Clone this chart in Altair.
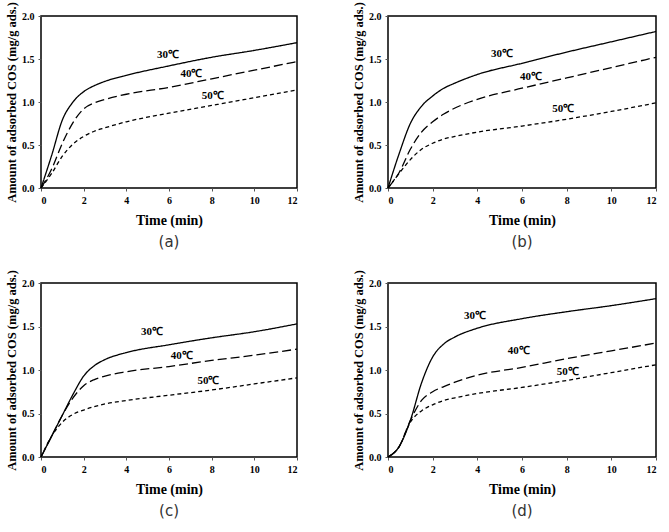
import altair as alt
import pandas as pd

time = [0, 0.5, 1, 1.5, 2, 2.5, 3, 4, 6, 8, 10, 12]
temps = ["30℃", "40℃", "50℃"]

a_30 = [0, 0.38, 0.79, 1.00, 1.12, 1.19, 1.24, 1.31, 1.42, 1.52, 1.60, 1.69]
a_40 = [0, 0.22, 0.52, 0.76, 0.92, 0.99, 1.03, 1.09, 1.17, 1.27, 1.37, 1.47]
a_50 = [0, 0.17, 0.37, 0.51, 0.60, 0.66, 0.70, 0.77, 0.87, 0.96, 1.05, 1.14]

b_30 = [0, 0.40, 0.75, 0.95, 1.07, 1.16, 1.22, 1.32, 1.45, 1.58, 1.70, 1.82]
b_40 = [0, 0.18, 0.45, 0.65, 0.77, 0.86, 0.93, 1.03, 1.16, 1.28, 1.40, 1.52]
b_50 = [0, 0.17, 0.33, 0.45, 0.52, 0.57, 0.60, 0.65, 0.72, 0.80, 0.89, 0.99]

c_30 = [0, 0.24, 0.48, 0.72, 0.93, 1.05, 1.12, 1.20, 1.29, 1.37, 1.44, 1.53]
c_40 = [0, 0.24, 0.48, 0.68, 0.82, 0.89, 0.93, 0.98, 1.04, 1.11, 1.17, 1.24]
c_50 = [0, 0.24, 0.40, 0.49, 0.54, 0.58, 0.61, 0.65, 0.71, 0.77, 0.84, 0.91]

d_30 = [0, 0.12, 0.42, 0.85, 1.15, 1.30, 1.38, 1.48, 1.59, 1.67, 1.74, 1.82]
d_40 = [0, 0.12, 0.42, 0.65, 0.75, 0.81, 0.86, 0.94, 1.03, 1.13, 1.22, 1.31]
d_50 = [0, 0.12, 0.40, 0.53, 0.60, 0.65, 0.68, 0.73, 0.80, 0.88, 0.97, 1.06]

# label positions (time, amount) per panel
a_lab_x = [5.95, 7.05, 8.05]
a_lab_y = [1.55, 1.33, 1.07]
b_lab_x = [5.1, 6.4, 7.85]
b_lab_y = [1.56, 1.29, 0.92]
c_lab_x = [5.2, 6.6, 7.85]
c_lab_y = [1.44, 1.16, 0.87]
d_lab_x = [3.9, 5.85, 8.05]
d_lab_y = [1.62, 1.22, 0.98]

captions = ["(a)", "(b)", "(c)", "(d)"]

SERIF = "Liberation Serif"


def panel(s30, s40, s50, lx, ly, caption, w, h):
    rows = []
    for t, series in zip(temps, [s30, s40, s50]):
        for x, y in zip(time, series):
            rows.append({"Time": x, "Amount": y, "Temp": t})
    df = pd.DataFrame(rows)
    labs = pd.DataFrame({"Time": lx, "Amount": ly, "Temp": temps})

    xenc = alt.X("Time:Q", scale=alt.Scale(domain=[0, 12], nice=False),
                 axis=alt.Axis(values=[0, 2, 4, 6, 8, 10, 12], title="Time (min)",
                               format="d"))
    yenc = alt.Y("Amount:Q", scale=alt.Scale(domain=[0, 2], nice=False),
                 axis=alt.Axis(values=[0, 0.5, 1.0, 1.5, 2.0], format=".1f",
                               title="Amount of adsorbed COS (mg/g ads.)"))

    lines = alt.Chart(df).mark_line(color="black", strokeWidth=1.3,
                                    interpolate="monotone").encode(
        x=xenc, y=yenc,
        strokeDash=alt.StrokeDash("Temp:N", legend=None,
                                  scale=alt.Scale(domain=temps,
                                                  range=[[1, 0], [9, 4], [4, 3]])),
        detail="Temp:N",
    )
    text = alt.Chart(labs).mark_text(font=SERIF, fontWeight="bold", fontSize=11,
                                     color="black").encode(
        x="Time:Q", y="Amount:Q", text="Temp:N")
    return alt.layer(lines, text).properties(
        width=w, height=h,
        title=alt.TitleParams(caption, orient="bottom", font="DejaVu Sans",
                              fontSize=15, fontWeight="normal", color="#333333",
                              offset=8),
    )


pa = panel(a_30, a_40, a_50, a_lab_x, a_lab_y, captions[0], 256, 172)
pb = panel(b_30, b_40, b_50, b_lab_x, b_lab_y, captions[1], 268, 172)
pc = panel(c_30, c_40, c_50, c_lab_x, c_lab_y, captions[2], 256, 174)
pd_ = panel(d_30, d_40, d_50, d_lab_x, d_lab_y, captions[3], 268, 174)

chart = alt.concat(pa, pb, pc, pd_, columns=2,
                   spacing={"column": 91, "row": 95}, bounds="flush").configure_view(
    stroke="black", strokeWidth=1.5
).configure_axis(
    labelFont=SERIF, labelFontWeight="bold", labelFontSize=10, labelColor="black",
    titleFont=SERIF, titleFontWeight="bold", titleColor="black",
    grid=False, domain=False, ticks=True, tickSize=3, tickColor="#555555",
    tickWidth=1,
).configure_axisY(titlePadding=3, labelPadding=4, titleFontSize=12.5).configure_axisX(
    titlePadding=8, labelPadding=4, titleFontSize=14
).properties(
    background="white", padding={"left": 4, "top": 0, "right": 5, "bottom": 5}
)

chart.save("out.html", embed_options={"renderer": "svg", "actions": False})
